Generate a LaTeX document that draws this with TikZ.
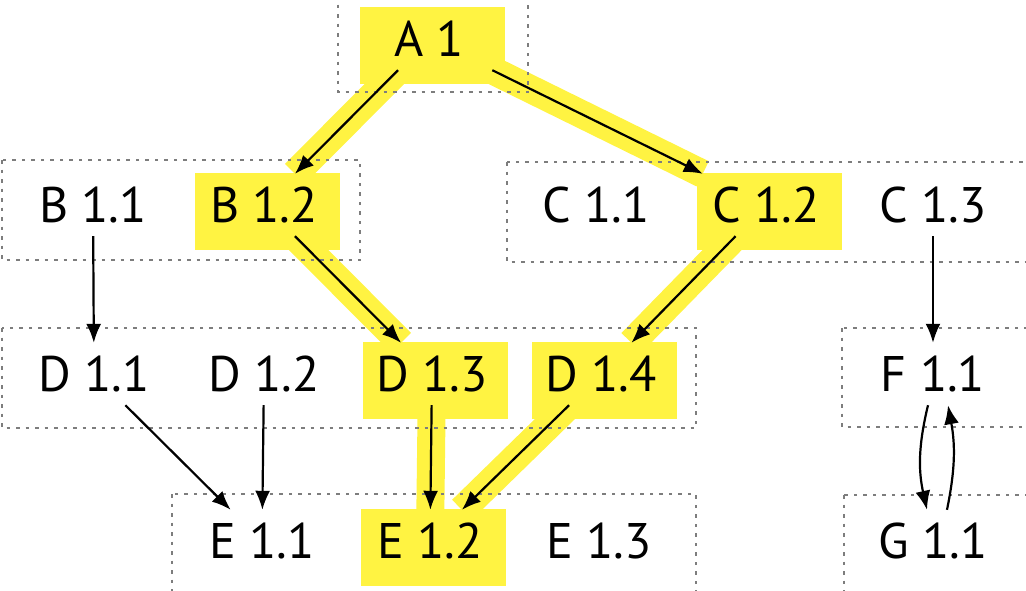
\documentclass[tikz,border=0pt]{standalone}
\usepackage{fontspec}
\setmainfont{PT Sans}
\usetikzlibrary{arrows.meta,backgrounds}
\definecolor{hlyellow}{RGB}{255,243,66}
\definecolor{frameGray}{RGB}{125,125,125}

\begin{document}
\begin{tikzpicture}[x=1pt,y=-1pt,
	ver/.style={minimum width=128pt,minimum height=62pt,inner sep=0pt,font=\fontsize{50}{60}\selectfont},
	grp/.style={draw=frameGray,line width=2pt,dash pattern=on 3.5pt off 6pt},
	hbox/.style={fill=hlyellow,minimum width=145pt,minimum height=77pt,inner sep=0pt},
	band/.style={draw=hlyellow,line width=28pt},
	edge/.style={->,line width=2.2pt},
	>={Latex[length=19pt,width=15pt]}]
	\useasboundingbox (0,0) rectangle (1026,590);
	\clip (0,0) rectangle (1026,590);
	% groups
	\draw[grp] (338,-5) rectangle (528,92);
	\draw[grp] (2,160) rectangle (360,260);
	\draw[grp] (507,162) rectangle (1040,262);
	\draw[grp] (2,328) rectangle (696,428);
	\draw[grp] (842,328) rectangle (1040,427);
	\draw[grp] (172,494) rectangle (696,600);
	\draw[grp] (844,495) rectangle (1040,600);
	% versions
	\node[ver] (a1) at (429,39) {A 1};
	\node[ver] (b11) at (93,205) {B 1.1};
	\node[ver] (b12) at (264,205) {B 1.2};
	\node[ver] (c11) at (596,205) {C 1.1};
	\node[ver] (c12) at (766,205) {C 1.2};
	\node[ver] (c13) at (933,205) {C 1.3};
	\node[ver] (d11) at (94,374) {D 1.1};
	\node[ver] (d12) at (264,374) {D 1.2};
	\node[ver] (d13) at (432,374) {D 1.3};
	\node[ver] (d14) at (601,374) {D 1.4};
	\node[ver] (f11) at (933,374) {F 1.1};
	\node[ver] (e11) at (262,541) {E 1.1};
	\node[ver] (e12) at (430,541) {E 1.2};
	\node[ver] (e13) at (599,541) {E 1.3};
	\node[ver] (g11) at (933,541) {G 1.1};
	% highlighted path
	\begin{pgfonlayer}{background}
		\draw[band] (a1) -- (b12) -- (d13) -- (e12) -- (d14) -- (c12) -- (a1);
		\foreach \v in {a1,b12,c12,d13,d14,e12}
			\node[hbox] at ([shift={(3,6)}]\v) {};
	\end{pgfonlayer}
	% dependencies
	\draw[edge] (a1) -- (b12);
	\draw[edge] (a1) -- (c12);
	\draw[edge] (b11) -- (d11);
	\draw[edge] (b12) -- (d13);
	\draw[edge] (c12) -- (d14);
	\draw[edge] (c13) -- (f11);
	\draw[edge] (d11) -- (e11);
	\draw[edge] (d12) -- (e11);
	\draw[edge] (d13) -- (e12);
	\draw[edge] (d14) -- (e12);
	\draw[edge] ([xshift=-5pt]f11.south) to[bend right=13] ([xshift=-6pt]g11.north);
	\draw[edge] ([xshift=14pt]g11.north) to[bend right=11] ([xshift=15pt]f11.south);
\end{tikzpicture}
\end{document}
